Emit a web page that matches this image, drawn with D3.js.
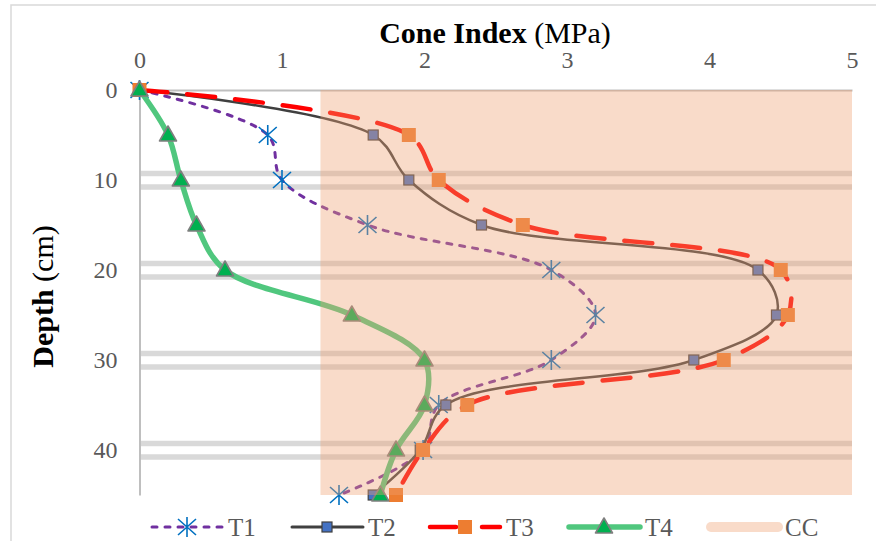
<!DOCTYPE html>
<html>
<head>
<meta charset="utf-8">
<script src="https://cdn.jsdelivr.net/npm/d3@7"></script>
<style>
  body { margin: 0; background: #fff; }
  svg { display: block; font-family: "Liberation Serif", "Times New Roman", serif; }
</style>
</head>
<body>
<svg id="chart" width="876" height="541"></svg>
<script>
// depth (cm) on the vertical axis, cone index (MPa) on the horizontal one
const depths = [0, 5, 10, 15, 20, 25, 30, 35, 40, 45];
const t1 = [0, 0.90, 1.00, 1.60, 2.89, 3.20, 2.89, 2.10, 1.99, 1.40];
const t2 = [0, 1.64, 1.89, 2.40, 4.34, 4.47, 3.89, 2.15, 1.97, 1.64];
const t3 = [0, 1.89, 2.10, 2.69, 4.50, 4.55, 4.10, 2.30, 1.99, 1.80];
const t4 = [0, 0.20, 0.29, 0.40, 0.60, 1.49, 2.00, 2.00, 1.80, 1.69];
const ccRange = [1.27, 5];
const xTicks = [0, 1, 2, 3, 4, 5];
const yTicks = [0, 10, 20, 30, 40];
const legendNames = ["T1", "T2", "T3", "T4", "CC"];

const FONT = "Liberation Serif";
const svg = d3.select("#chart");
const x = d3.scaleLinear().domain([0, 5]).range([139.5, 852]);
const y = d3.scaleLinear().domain([0, 45]).range([90, 495]);

const defs = svg.append("defs");
defs.append("filter").attr("id", "soft")
  .attr("x", "-5%").attr("y", "-200%").attr("width", "110%").attr("height", "500%")
  .append("feGaussianBlur").attr("stdDeviation", 2.5);

// outer chart border
svg.append("rect")
  .attr("x", 11).attr("y", 5).attr("width", 900).attr("height", 600)
  .attr("fill", "none").attr("stroke", "#d9d9d9").attr("stroke-width", 1.5);

// gridline bands
const grid = svg.append("g");
yTicks.filter(d => d > 0).forEach(d => {
  grid.append("line")
    .attr("x1", x(0)).attr("x2", x(5)).attr("y1", y(d) + 13).attr("y2", y(d) + 13)
    .attr("stroke", "#e6e6e6").attr("stroke-width", 7).attr("filter", "url(#soft)");
  [-6.5, 7].forEach(off => {
    grid.append("line")
      .attr("x1", x(0)).attr("x2", x(5)).attr("y1", y(d) + off).attr("y2", y(d) + off)
      .attr("stroke", "#d9d9d9").attr("stroke-width", 5.5);
  });
});

// axes
const xAxis = svg.append("g").attr("transform", `translate(0,${y(0)})`)
  .call(d3.axisTop(x).tickValues(xTicks).tickSize(0).tickPadding(22).tickFormat(d3.format("d")));
const yAxis = svg.append("g").attr("transform", `translate(${x(0)},0)`)
  .call(d3.axisLeft(y).tickValues(yTicks).tickSize(0).tickPadding(22).tickFormat(d3.format("d")));
[xAxis, yAxis].forEach(a => {
  a.attr("font-family", FONT);
  a.select(".domain").attr("stroke", "#bfbfbf").attr("stroke-width", 2);
  a.selectAll("text").attr("font-family", FONT).attr("font-size", 24).attr("fill", "#595959");
});

const line = d3.line()
  .x(d => x(d.v))
  .y(d => y(d.d))
  .curve(d3.curveCatmullRom.alpha(0.5));

const asterisk = "M0,-10V10M-9,-8L9,8M-9,8L9,-8";

const series = [
  { name: "T1", vals: t1, stroke: "#7030A0", width: 3, dash: "5,8" },
  { name: "T2", vals: t2, stroke: "#404040", width: 2.5, dash: null },
  { name: "T3", vals: t3, stroke: "#FF0000", width: 4.5, dash: "28,20" },
  { name: "T4", vals: t4, stroke: "#50C77E", width: 5.5, dash: null }
];

function drawMarker(g, name) {
  if (name === "T1") {
    g.append("path").attr("d", asterisk).attr("fill", "none")
      .attr("stroke", "#0070C0").attr("stroke-width", 1.6);
  } else if (name === "T2") {
    g.append("rect").attr("x", -5).attr("y", -5).attr("width", 10).attr("height", 10)
      .attr("fill", "#4472C4").attr("stroke", "#404040").attr("stroke-width", 1.2);
  } else if (name === "T3") {
    g.append("rect").attr("x", -7).attr("y", -7).attr("width", 14).attr("height", 14)
      .attr("fill", "#ED7D31");
  } else if (name === "T4") {
    g.append("path").attr("d", "M0,-9L8.5,6L-8.5,6Z")
      .attr("fill", "#00B050").attr("stroke", "#7F7F7F").attr("stroke-width", 1.6)
      .attr("stroke-linejoin", "round");
  }
}

const plot = svg.append("g");
series.forEach(s => {
  const pts = depths.map((d, i) => ({ d: d, v: s.vals[i] }));
  plot.append("path").datum(pts)
    .attr("d", line)
    .attr("fill", "none")
    .attr("stroke", s.stroke)
    .attr("stroke-width", s.width)
    .attr("stroke-dasharray", s.dash)
    .attr("stroke-linecap", "round")
    .attr("stroke-linejoin", "round");
  plot.selectAll(null).data(pts).enter().append("g")
    .attr("transform", p => `translate(${x(p.v)},${y(p.d)})`)
    .each(function () { drawMarker(d3.select(this), s.name); });
});

// CC band, semi-transparent over the curves
const ccFill = "#F0A070", ccOpacity = 0.38;
svg.append("rect")
  .attr("x", x(ccRange[0])).attr("y", y(0))
  .attr("width", x(ccRange[1]) - x(ccRange[0])).attr("height", y(45) - y(0))
  .attr("fill", ccFill).attr("opacity", ccOpacity);

// titles
svg.append("text")
  .attr("x", 495).attr("y", 43).attr("text-anchor", "middle")
  .attr("font-family", FONT).attr("font-size", 30).attr("fill", "#000")
  .call(t => {
    t.append("tspan").attr("font-weight", "bold").text("Cone Index");
    t.append("tspan").text(" (MPa)");
  });
svg.append("text")
  .attr("transform", `translate(53,${(y(0) + y(45)) / 2 + 4}) rotate(-90)`)
  .attr("text-anchor", "middle").attr("font-family", FONT).attr("font-size", 30).attr("fill", "#000")
  .call(t => {
    t.append("tspan").attr("font-weight", "bold").text("Depth");
    t.append("tspan").text(" (cm)");
  });

// legend
const legendX = [152, 292, 430, 569, 707];
const legendY = 527;
const legendDash = { T1: "5,8", T3: "26,26,18,99" };
const legend = svg.append("g").attr("font-family", FONT);
legendNames.forEach((name, i) => {
  const g = legend.append("g").attr("transform", `translate(${legendX[i]},${legendY})`);
  const s = series.find(d => d.name === name);
  if (s) {
    g.append("line").attr("x1", 0).attr("x2", 71).attr("y1", 0).attr("y2", 0)
      .attr("stroke", s.stroke).attr("stroke-width", name === "T4" ? 5.5 : (name === "T3" ? 4.5 : 3))
      .attr("stroke-dasharray", legendDash[name] || null)
      .attr("stroke-linecap", "round");
    const m = g.append("g").attr("transform", "translate(35,0)");
    drawMarker(m, name);
  } else {
    g.append("line").attr("x1", 4).attr("x2", 71).attr("y1", 0).attr("y2", 0)
      .attr("stroke", ccFill).attr("stroke-opacity", ccOpacity)
      .attr("stroke-width", 10).attr("stroke-linecap", "round");
  }
  g.append("text").attr("x", name === "CC" ? 78 : 76).attr("y", 9)
    .attr("font-size", 25).attr("fill", "#595959").text(name);
});
</script>
</body>
</html>
